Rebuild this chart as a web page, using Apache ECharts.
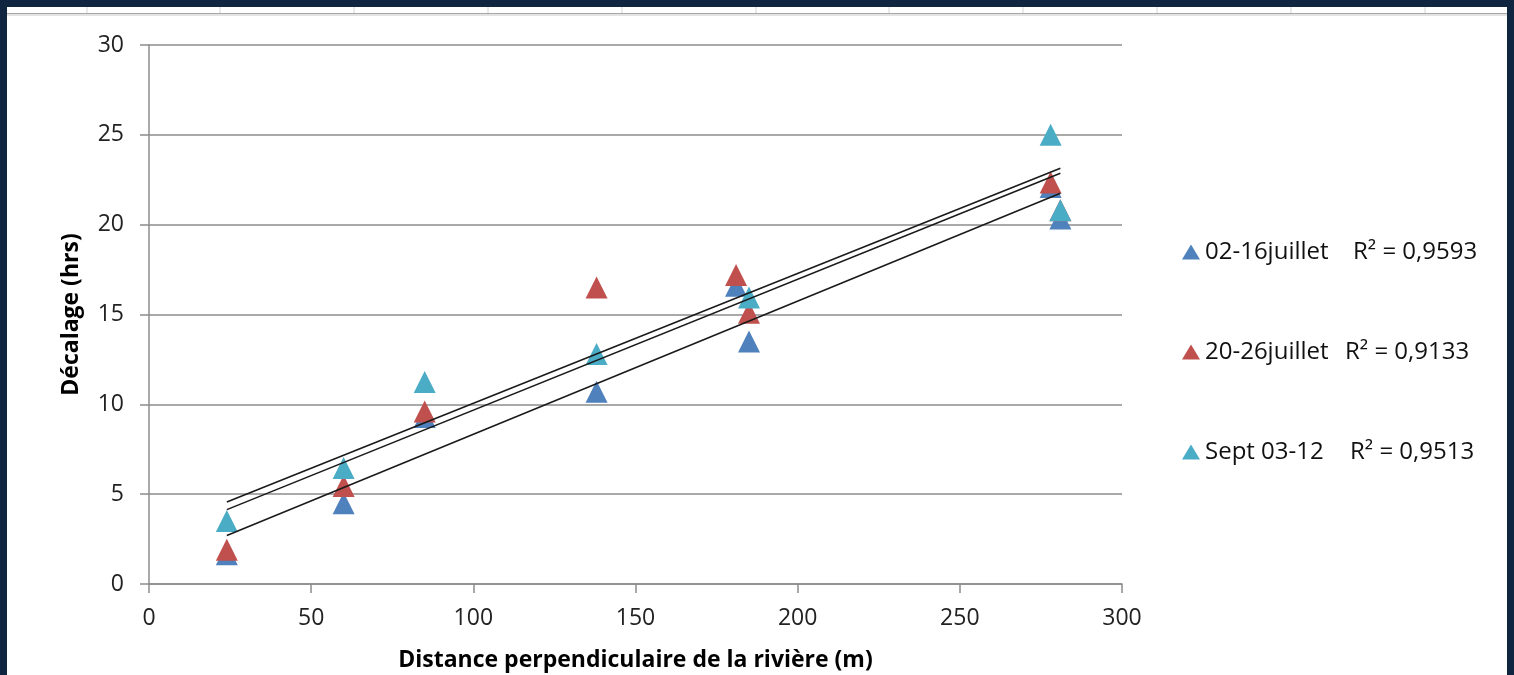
<!DOCTYPE html>
<html>
<head>
<meta charset="utf-8">
<script src="https://cdn.jsdelivr.net/npm/echarts@6/dist/echarts.min.js"></script>
<style>
html,body{margin:0;padding:0;background:#10253f;}
#c{width:1514px;height:675px;}
</style>
</head>
<body>
<div id="c"></div>
<script>
// ---- data ----
var seriesNames = ['02-16juillet', '20-26juillet', 'Sept 03-12'];
var r2Labels = ['0,9593', '0,9133', '0,9513'];
var xBlue = [24, 60, 85, 138, 181, 185, 278, 281];
var yBlue = [1.65, 4.5, 9.3, 10.7, 16.6, 13.5, 22.1, 20.35];
var xRed = [24, 60, 85, 138, 181, 185, 278, 281];
var yRed = [1.9, 5.45, 9.6, 16.5, 17.2, 15.1, 22.35, 20.8];
var xCyan = [24, 60, 85, 138, 185, 278, 281];
var yCyan = [3.5, 6.45, 11.25, 12.8, 15.95, 25.0, 20.8];
var xTicks = [0, 50, 100, 150, 200, 250, 300];
var yTicks = [0, 5, 10, 15, 20, 25, 30];

var colors = ['#4F81BD', '#C0504D', '#4BACC6'];
var FONT = '"Open Sans", "Noto Sans", sans-serif';

function pairs(xs, ys) { return xs.map(function (x, i) { return [x, ys[i]]; }); }
function trend(xs, ys) {
  var n = xs.length, mx = 0, my = 0;
  for (var i = 0; i < n; i++) { mx += xs[i]; my += ys[i]; }
  mx /= n; my /= n;
  var sxy = 0, sxx = 0;
  for (i = 0; i < n; i++) { sxy += (xs[i] - mx) * (ys[i] - my); sxx += (xs[i] - mx) * (xs[i] - mx); }
  var b = sxy / sxx, a = my - b * mx;
  var x0 = Math.min.apply(null, xs), x1 = Math.max.apply(null, xs);
  return [[x0, a + b * x0], [x1, a + b * x1]];
}

var sets = [[xBlue, yBlue], [xRed, yRed], [xCyan, yCyan]];
var series = [];
sets.forEach(function (s, i) {
  series.push({
    name: seriesNames[i], type: 'scatter', symbol: 'triangle', symbolSize: 22,
    itemStyle: { color: colors[i], opacity: 1 }, data: pairs(s[0], s[1]), z: 3 + i
  });
});
sets.forEach(function (s, i) {
  series.push({
    name: 'trend' + i, type: 'line', data: trend(s[0], s[1]), symbol: 'none', silent: true,
    lineStyle: { color: '#1a1a1a', width: 1.6 }, z: 10
  });
});

var nameWidths = [148, 140, 145];
var rich = {};
seriesNames.forEach(function (n, i) {
  rich['n' + i] = { width: nameWidths[i], fontSize: 24, fontFamily: FONT, color: '#111' };
});
rich.r = { fontSize: 24, fontFamily: FONT, color: '#111' };

// decoration: spreadsheet strip at top
var graphics = [{ type: 'rect', shape: { x: 7, y: 7, width: 1500, height: 668 }, style: { fill: '#ffffff' }, z: -10 }];
var colLines = [87, 220, 354, 488, 622, 756, 889, 1023, 1157, 1291, 1425];
colLines.forEach(function (x) {
  graphics.push({ type: 'line', shape: { x1: x, y1: 7, x2: x, y2: 13 }, style: { stroke: '#d4d4d4', lineWidth: 1 }, z: -9 });
});
graphics.push({ type: 'line', shape: { x1: 7, y1: 13.5, x2: 1507, y2: 13.5 }, style: { stroke: '#a6a6a6', lineWidth: 1 }, z: -9 });
graphics.push({ type: 'line', shape: { x1: 7, y1: 15, x2: 1507, y2: 15 }, style: { stroke: '#c8c8c8', lineWidth: 1 }, z: -9 });

var chart = echarts.init(document.getElementById('c'), null, { renderer: 'canvas' });
chart.setOption({
  backgroundColor: '#10253f',
  animation: false,
  graphic: graphics,
  grid: { left: 149, right: 392, top: 45, bottom: 91, containLabel: false, outerBoundsMode: 'none' },
  xAxis: {
    type: 'value', min: xTicks[0], max: xTicks[xTicks.length - 1], interval: 50,
    name: 'Distance perpendiculaire de la rivière (m)', nameLocation: 'middle', nameGap: 65,
    nameTextStyle: { fontFamily: FONT, fontSize: 23, fontWeight: 'bold', color: '#000' },
    axisLine: { show: true, onZero: false, lineStyle: { color: '#8c8c8c', width: 1.5 } },
    axisTick: { show: true, length: 9, lineStyle: { color: '#8c8c8c', width: 1.5 } },
    axisLabel: { margin: 23, fontFamily: FONT, fontSize: 23, color: '#222' },
    splitLine: { show: false }
  },
  yAxis: {
    type: 'value', min: yTicks[0], max: yTicks[yTicks.length - 1], interval: 5,
    name: 'Décalage (hrs)', nameLocation: 'middle', nameGap: 66,
    nameTextStyle: { fontFamily: FONT, fontSize: 23, fontWeight: 'bold', color: '#000' },
    axisLine: { show: true, lineStyle: { color: '#8c8c8c', width: 1.5 } },
    axisTick: { show: true, length: 9, lineStyle: { color: '#8c8c8c', width: 1.5 } },
    axisLabel: { margin: 25, fontFamily: FONT, fontSize: 23, color: '#222' },
    splitLine: { show: true, lineStyle: { color: '#8c8c8c', width: 1.5 } }
  },
  legend: {
    data: seriesNames.map(function (n) { return { name: n, icon: 'triangle' }; }),
    orient: 'vertical', left: 1177, top: 234, itemWidth: 18, itemHeight: 15, itemGap: 74,
    selectedMode: false,
    formatter: function (name) {
      var i = seriesNames.indexOf(name);
      return '{n' + i + '|' + name + '}{r|R² = ' + r2Labels[i] + '}';
    },
    textStyle: { rich: rich, fontFamily: FONT, fontSize: 24, lineHeight: 26 }
  },
  series: series
});
</script>
</body>
</html>
